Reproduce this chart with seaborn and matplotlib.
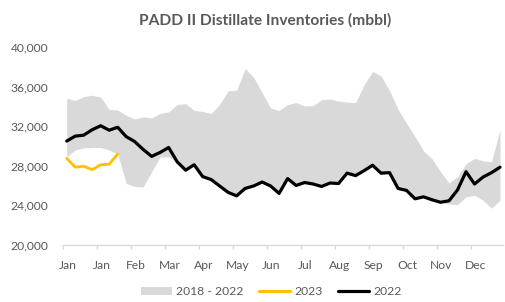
import numpy as np
import pandas as pd
import matplotlib
matplotlib.use("Agg")
import matplotlib.pyplot as plt
import matplotlib.transforms as mtransforms
import seaborn as sns
from matplotlib.patches import Patch
from matplotlib.lines import Line2D

# ---- data (mbbl), weekly ----
weeks = list(range(52))
s2022 = [30500, 31000, 31100, 31650, 32050, 31600, 31900, 30950, 30450, 29650,
         28950, 29350, 29850, 28400, 27550, 28100, 26900, 26600, 25950, 25300,
         24950, 25700, 25950, 26350, 25950, 25200, 26700, 26000, 26300, 26150,
         25900, 26250, 26200, 27250, 27000, 27500, 28050, 27250, 27300, 25700,
         25500, 24650, 24850, 24550, 24300, 24450, 25550, 27400, 26150, 26850,
         27300, 27850]
s2023 = [28750, 27850, 27950, 27600, 28100, 28150, 29200]
band_high = [34850, 34600, 35000, 35150, 34950, 33700, 33650, 33100, 32750, 32950,
             32850, 33300, 33450, 34200, 34300, 33600, 33500, 33300, 34200, 35600,
             35650, 37850, 36950, 35400, 33850, 33600, 34200, 34400, 34050, 34100,
             34700, 34750, 34550, 34450, 34400, 36200, 37550, 37100, 35600, 33700,
             32300, 30950, 29500, 28700, 27400, 26250, 26900, 28200, 28750, 28500,
             28400, 31650]
band_low = [28900, 29600, 29800, 29850, 29850, 29600, 29200, 26200, 25900, 25850,
            27400, 28900, 28900, 28400, 27550, 28100, 26900, 26600, 25950, 25300,
            24950, 25700, 25950, 26350, 25950, 25200, 26700, 26000, 26300, 26150,
            25900, 26250, 26200, 27250, 27000, 27500, 28050, 27250, 27300, 25700,
            25500, 24650, 24850, 24550, 24250, 24150, 24050, 24850, 25000, 24500,
            23700, 24500]
tick_labels = ["Jan", "Jan", "Feb", "Mar", "Apr", "May", "Jun", "Jul", "Aug",
               "Sep", "Oct", "Nov", "Dec"]
y_ticks = [20000, 24000, 28000, 32000, 36000, 40000]

df22 = pd.DataFrame({"week": weeks, "value": s2022})
df23 = pd.DataFrame({"week": weeks[:len(s2023)], "value": s2023})

sns.set_style("white")
plt.rcParams["font.family"] = ["Lato", "DejaVu Sans"]

GRAY_TXT = "#595959"
fig = plt.figure(figsize=(5.05, 3.02), dpi=100)
ax = fig.add_axes([0.1257, 0.1897, 0.8703, 0.6537])

ax.fill_between(weeks, band_low, band_high, color="#D9D9D9", linewidth=0, zorder=1)
sns.lineplot(data=df23, x="week", y="value", ax=ax, color="#FFC000",
             linewidth=2.0, zorder=3, legend=False)
sns.lineplot(data=df22, x="week", y="value", ax=ax, color="#000000",
             linewidth=2.3, zorder=4, legend=False)

ax.set_xlim(-0.38, 51.35)
ax.set_ylim(20000, 40000)
ax.set_xticks([4 * k - 0.38 for k in range(len(tick_labels))])
ax.set_xticklabels(tick_labels)
ax.set_yticks(y_ticks)
ax.set_yticklabels([f"{v:,}" for v in y_ticks])
ax.set_xlabel("")
ax.set_ylabel("")

for side in ["top", "right", "left"]:
    ax.spines[side].set_visible(False)
ax.spines["bottom"].set_color("#D9D9D9")
ax.spines["bottom"].set_linewidth(1.0)
ax.tick_params(axis="x", direction="out", length=3, width=1.0, color="#D9D9D9",
               labelsize=8.7, labelcolor=GRAY_TXT, pad=8, bottom=True)
ax.tick_params(axis="y", length=0, labelsize=8.7, labelcolor=GRAY_TXT, pad=11)
ax.grid(False)

# shift x labels slightly right, as in the reference
offset = mtransforms.ScaledTranslation(4 / 100, 0, fig.dpi_scale_trans)
for lbl in ax.get_xticklabels():
    lbl.set_transform(lbl.get_transform() + offset)

fig.text(0.525, 0.934, "PADD II Distillate Inventories (mbbl)", ha="center",
         va="center", fontsize=11.2, fontweight="bold", color=GRAY_TXT)

handles = [Patch(facecolor="#D9D9D9", edgecolor="none"),
           Line2D([0], [0], color="#FFC000", linewidth=2.3),
           Line2D([0], [0], color="#000000", linewidth=2.3)]
fig.legend(handles, ["2018 - 2022", "2023", "2022"], loc="center",
           bbox_to_anchor=(0.537, 0.034), ncol=3, frameon=False, fontsize=8.7,
           labelcolor=GRAY_TXT, handlelength=2.6, handletextpad=0.3,
           columnspacing=1.3, handleheight=0.7)

fig.savefig("out.png", dpi=100)
